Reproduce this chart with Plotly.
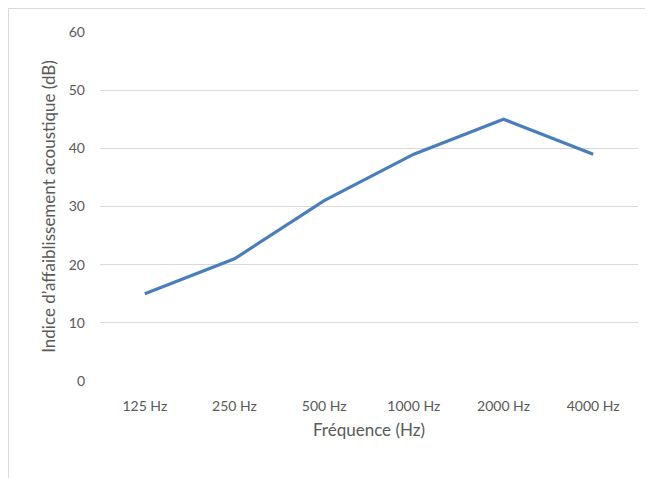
import plotly.graph_objects as go

categories = ["125 Hz", "250 Hz", "500 Hz", "1000 Hz", "2000 Hz", "4000 Hz"]
values = [15, 21, 31, 39, 45, 39]
y_ticks = [0, 10, 20, 30, 40, 50, 60]

fig = go.Figure()
fig.add_trace(go.Scatter(
    x=list(range(len(categories))), y=values, mode="lines",
    line=dict(color="#4A7EBB", width=3.2), showlegend=False,
))

font = "Lato, 'Open Sans', sans-serif"
fig.update_layout(
    width=653, height=478,
    margin=dict(l=92, r=23, t=24, b=105),
    paper_bgcolor="white", plot_bgcolor="white",
    font=dict(family=font, color="#595959", size=14),
    xaxis=dict(
        tickmode="array", tickvals=list(range(len(categories))), ticktext=categories,
        range=[-0.5, len(categories) - 0.5], showgrid=False, zeroline=False,
        showline=False, ticks="", ticklabelstandoff=15,
        title=dict(text="Fréquence (Hz)", font=dict(size=17, color="#595959"), standoff=11),
    ),
    yaxis=dict(
        range=[0, 60], tickvals=y_ticks, showgrid=True, gridcolor="#d9d9d9",
        gridwidth=1, zeroline=False, showline=False, ticks="", ticklabelstandoff=14,
        title=dict(text="Indice d’affaiblissement acoustique (dB)", font=dict(size=17, color="#595959"), standoff=8),
    ),
    shapes=[dict(type="rect", xref="paper", yref="paper",
                 x0=(0.5 - 92) / 538, x1=1.2, y0=-0.5, y1=1 + 23.5 / 349,
                 line=dict(color="#d9d9d9", width=1), layer="below")],
)

fig.write_html("out.html")
